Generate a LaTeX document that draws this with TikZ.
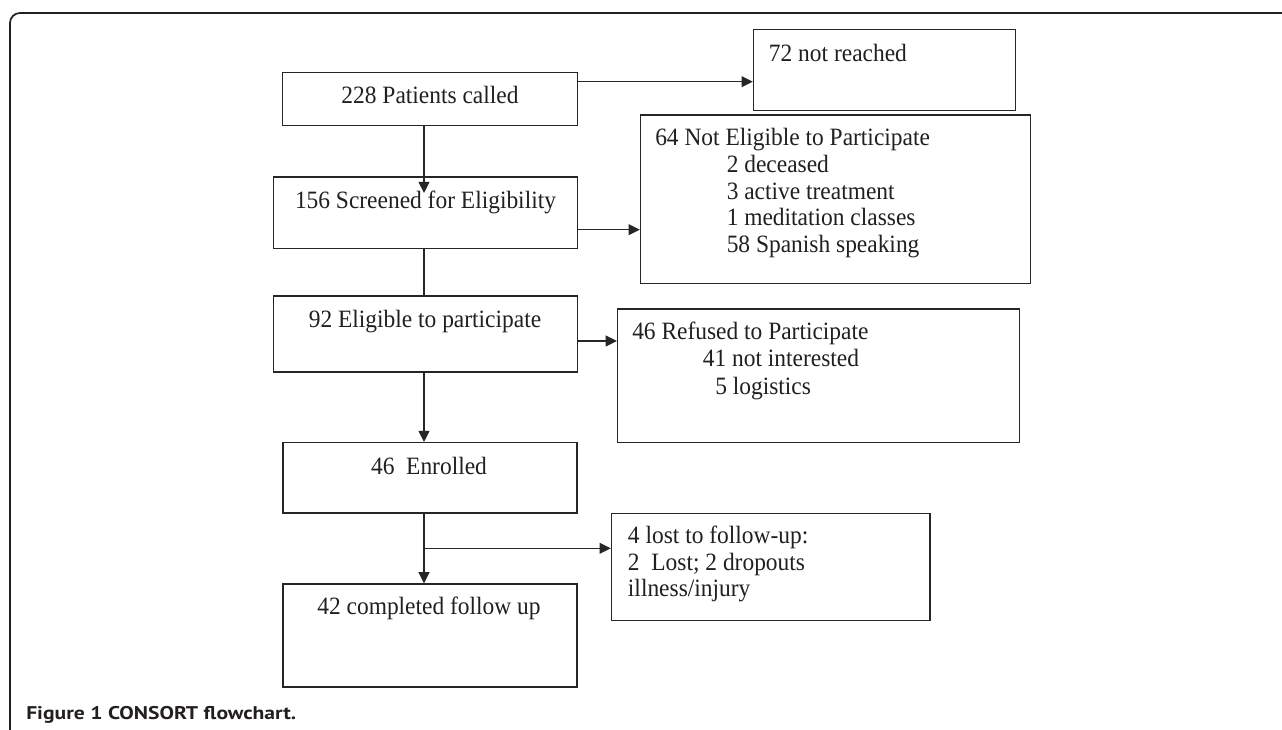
\documentclass[tikz,border=0pt]{standalone}
\usepackage{fontspec}
\setmainfont{Liberation Serif}[FakeStretch=0.94]
\newfontfamily\capfont{PT Sans}
\usetikzlibrary{arrows.meta,fit,calc}
\definecolor{ink}{HTML}{231F20}
\definecolor{edge}{HTML}{262626}
\begin{document}
\begin{tikzpicture}[x=0.75pt,y=-0.75pt,
  box/.style={draw=edge, line width=1.05pt, inner sep=0pt},
  conn/.style={draw=edge, line width=0.85pt},
  arr/.style={conn, -{Triangle[length=8.4pt,width=8.2pt]}},
  frame/.style={draw=ink, line width=1.3pt, rounded corners=7.5pt},
  lbl/.style={font=\fontsize{18.7}{21}\selectfont, text=ink, inner sep=0pt}]
\useasboundingbox (0,0) rectangle (1282,729);
\fill[white] (0,0) rectangle (1282,729);
% frame
\draw[frame] (10,740) -- (10,13) -- (1290,13);
% boxes
\node[box, fit={(282.6,72.3) (577.2,125.3)}] (b1) {};
\node[box, fit={(273.7,177) (577.2,248.3)}] (b2) {};
\node[box, fit={(753.5,29.7) (1015.5,110.3)}] (b72) {};
\node[box, fit={(640.5,115) (1030.3,283.3)}] (b64) {};
\node[box, fit={(273.3,296) (577.4,372)}] (b3) {};
\node[box, fit={(617.5,309) (1019.3,442.7)}] (b4) {};
\node[box, fit={(283,442.7) (577,513)}] (b5) {};
\node[box, fit={(283,584) (577,687)}] (b6) {};
\node[box, fit={(611.5,513.3) (930,620.7)}] (b7) {};
% texts
\node[lbl, anchor=base] (t1) at (430,103.4) {228 Patients called};
\node[lbl, anchor=base] (t2) at (425.5,208.4) {156 Screened for Eligibility};
\node[lbl, anchor=base west] (t72) at (768.7,61.4) {72 not reached};
\node[lbl, anchor=base west] (t64a) at (655,145.7) {64 Not Eligible to Participate};
\node[lbl, anchor=base west] (t64b) at (726.5,172.4) {2 deceased};
\node[lbl, anchor=base west] (t64c) at (726.5,199.1) {3 active treatment};
\node[lbl, anchor=base west] (t64d) at (726.5,225.7) {1 meditation classes};
\node[lbl, anchor=base west] (t64e) at (726.5,252.4) {58 Spanish speaking};
\node[lbl, anchor=base] (t3) at (425,327.7) {92 Eligible to participate};
\node[lbl, anchor=base west] (t4a) at (632,339.4) {46 Refused to Participate};
\node[lbl, anchor=base west] (t4b) at (702.6,366.7) {41 not interested};
\node[lbl, anchor=base west] (t4c) at (715,394.4) {5 logistics};
\node[lbl, anchor=base] (t5) at (429,474.4) {46\ \ Enrolled};
\node[lbl, anchor=base] (t6) at (429,614.1) {42 completed follow up};
\node[lbl, anchor=base west] (t7a) at (627.7,543.4) {4 lost to follow-up:};
\node[lbl, anchor=base west] (t7b) at (627.7,570.1) {2\ \ Lost; 2 dropouts};
\node[lbl, anchor=base west] (t7c) at (627.7,596.7) {illness/injury};
% caption
\node[anchor=base west, inner sep=0pt, text=ink] (cap) at (26,719.4)
  {\resizebox{202.5pt}{\height}{\capfont\bfseries\fontsize{13.8}{16}\selectfont Figure 1 CONSORT flowchart.}};
% connectors
\coordinate (c1) at (424,193);
\coordinate (r1) at (600,81.7);
\coordinate (r2) at (600,229.7);
\coordinate (r3) at (600,341);
\coordinate (r4) at (424,548.3);
\draw[arr] (b1.south -| c1) -- (c1);
\draw[arr] (b1.east |- r1) -- (b72.west |- r1);
\draw[arr] (b2.east |- r2) -- (b64.west |- r2);
\draw[conn] (b2.south -| c1) -- (b3.north -| c1);
\draw[arr] (b3.east |- r3) -- (b4.west |- r3);
\draw[arr] (b3.south -| c1) -- (b5.north -| c1);
\draw[arr] (b5.south -| c1) -- (b6.north -| c1);
\draw[arr] (r4) -- (b7.west |- r4);
\end{tikzpicture}
\end{document}
